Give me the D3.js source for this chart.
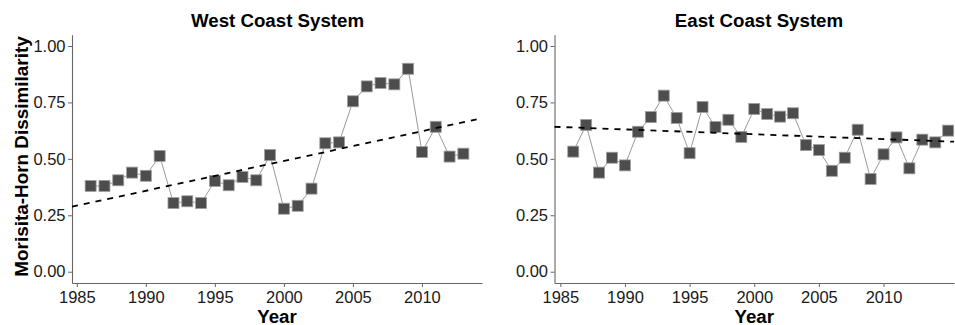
<!DOCTYPE html>
<html>
<head>
<meta charset="utf-8">
<script src="https://cdn.jsdelivr.net/npm/d3@7"></script>
<style>
  body { margin: 0; background: #fff; }
  svg { font-family: Arial, "Liberation Sans", sans-serif; }
</style>
</head>
<body>
<svg id="chart" width="955" height="325"></svg>
<script>
// data
const westYears = [1986, 1987, 1988, 1989, 1990, 1991, 1992, 1993, 1994, 1995, 1996, 1997, 1998, 1999,
    2000, 2001, 2002, 2003, 2004, 2005, 2006, 2007, 2008, 2009, 2010, 2011, 2012, 2013];
const westValues = [0.380, 0.380, 0.405, 0.439, 0.425, 0.513, 0.304, 0.312, 0.304, 0.402, 0.383, 0.420, 0.405, 0.517,
    0.279, 0.292, 0.368, 0.569, 0.573, 0.755, 0.821, 0.836, 0.830, 0.899, 0.530, 0.642, 0.510, 0.523];

const eastYears = [1986, 1987, 1988, 1989, 1990, 1991, 1992, 1993, 1994, 1995, 1996, 1997, 1998, 1999, 2000,
    2001, 2002, 2003, 2004, 2005, 2006, 2007, 2008, 2009, 2010, 2011, 2012, 2013, 2014, 2015];
const eastValues = [0.532, 0.650, 0.439, 0.505, 0.471, 0.620, 0.685, 0.780, 0.681, 0.525, 0.730, 0.641, 0.673, 0.597, 0.721,
    0.699, 0.687, 0.702, 0.561, 0.539, 0.447, 0.505, 0.629, 0.411, 0.520, 0.595, 0.458, 0.585, 0.573, 0.625];

// dashed trend line: value at left and right edge of each panel
const westTrend = [0.288, 0.680];
const eastTrend = [0.642, 0.576];

const yTicks = [0, 0.25, 0.5, 0.75, 1];
const xTicks = [1985, 1990, 1995, 2000, 2005, 2010];

const svg = d3.select('#chart');

function drawPanel(opt) {
    const x = d3.scaleLinear().domain(opt.xDomain).range(opt.xRange);
    const y = d3.scaleLinear().domain([-0.05, 1.05]).range([283, 34.7]);

    const g = svg.append('g');

    // axes
    const xAxis = g.append('g')
        .attr('transform', `translate(0,${y(-0.05)})`)
        .call(d3.axisBottom(x).tickValues(xTicks).tickFormat(d3.format('d')).tickSize(4).tickSizeOuter(0).tickPadding(4.3));
    const yAxis = g.append('g')
        .attr('transform', `translate(${x(opt.xDomain[0])},0)`)
        .call(d3.axisLeft(y).tickValues(yTicks).tickFormat(d3.format('.2f')).tickSize(4).tickSizeOuter(0).tickPadding(2.5));

    [xAxis, yAxis].forEach(a => {
        a.select('.domain').attr('stroke', '#666').attr('stroke-width', 1.1);
        a.selectAll('.tick line').attr('stroke', '#666');
        a.selectAll('.tick text').attr('fill', '#1a1a1a').attr('font-size', 16.5).attr('font-family', 'Arial, "Liberation Sans", sans-serif');
    });

    const pts = opt.years.map((yr, i) => ({ year: yr, value: opt.values[i] }));

    // thin grey connecting line
    g.append('path')
        .datum(pts)
        .attr('fill', 'none')
        .attr('stroke', '#9a9a9a')
        .attr('stroke-width', 1)
        .attr('d', d3.line().x(d => x(d.year)).y(d => y(d.value)));

    // square markers
    const s = 11;
    g.append('g')
        .selectAll('rect')
        .data(pts)
        .enter().append('rect')
        .attr('x', d => x(d.year) - s / 2)
        .attr('y', d => y(d.value) - s / 2)
        .attr('width', s)
        .attr('height', s)
        .attr('fill', '#4d4d4d')
        .attr('stroke', '#a0a0a0')
        .attr('stroke-width', 0.8);

    // dashed trend line
    g.append('line')
        .attr('x1', x(opt.xDomain[0]))
        .attr('y1', y(opt.trend[0]))
        .attr('x2', x(opt.xDomain[1]))
        .attr('y2', y(opt.trend[1]))
        .attr('stroke', '#000')
        .attr('stroke-width', 1.8)
        .attr('stroke-dasharray', '6,6');

    // title
    g.append('text')
        .attr('x', opt.titleX)
        .attr('y', 26.5)
        .attr('text-anchor', 'middle')
        .attr('font-size', 18.7)
        .attr('font-weight', 'bold')
        .attr('fill', '#000')
        .text(opt.title);

    // x axis title
    g.append('text')
        .attr('x', (opt.xRange[0] + opt.xRange[1]) / 2)
        .attr('y', 322.5)
        .attr('text-anchor', 'middle')
        .attr('font-size', 18.7)
        .attr('font-weight', 'bold')
        .attr('fill', '#000')
        .text('Year');
}

drawPanel({
    title: 'West Coast System', titleX: 277.5,
    years: westYears, values: westValues, trend: westTrend,
    xDomain: [1984.65, 2014.35], xRange: [72, 482]
});

drawPanel({
    title: 'East Coast System', titleX: 759,
    years: eastYears, values: eastValues, trend: eastTrend,
    xDomain: [1984.55, 2015.45], xRange: [554.5, 954]
});

// shared y axis title
svg.append('text')
    .attr('transform', 'translate(28,156.5) rotate(-90)')
    .attr('text-anchor', 'middle')
    .attr('font-size', 18.9)
    .attr('font-weight', 'bold')
    .attr('fill', '#000')
    .text('Morisita-Horn Dissimilarity');
</script>
</body>
</html>
